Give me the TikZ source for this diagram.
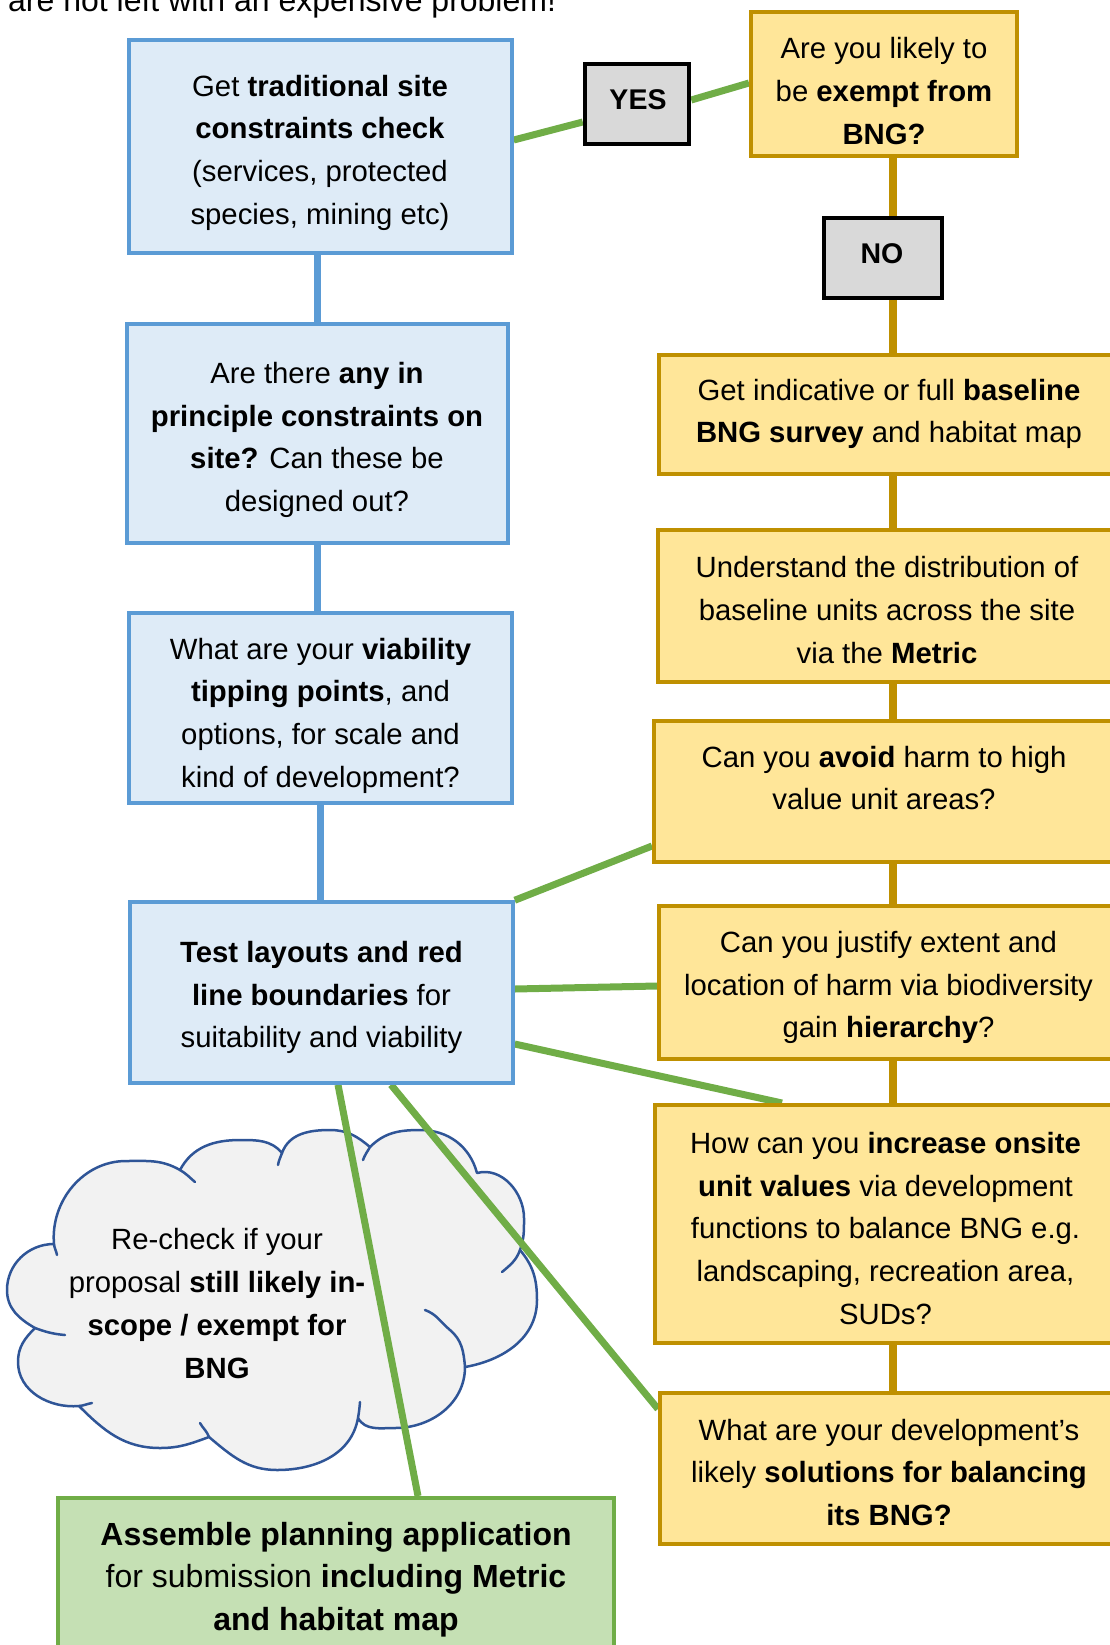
\documentclass[tikz,border=0pt]{standalone}
\usepackage{fontspec}
\setmainfont{Liberation Sans}
\usetikzlibrary{fit}
\definecolor{bBorder}{HTML}{5B9BD5}
\definecolor{bFill}{HTML}{DEEBF7}
\definecolor{yBorder}{HTML}{BF9000}
\definecolor{yFill}{HTML}{FFE699}
\definecolor{gLine}{HTML}{70AD47}
\definecolor{gFill}{HTML}{C5E0B4}
\definecolor{cFill}{HTML}{F2F2F2}
\definecolor{cLine}{HTML}{2F5597}
\definecolor{ynFill}{HTML}{D9D9D9}
\pgfdeclarelayer{back}
\pgfdeclarelayer{mid}
\pgfsetlayers{back,mid,main}
\tikzset{
  frame/.style={rectangle, inner sep=0pt},
  bluebox/.style={frame, draw=bBorder, fill=bFill, line width=3.5pt},
  yelbox/.style={frame, draw=yBorder, fill=yFill, line width=4pt},
  ynbox/.style={frame, draw=black, fill=ynFill, line width=4.5pt},
  grnbox/.style={frame, draw=gLine, fill=gFill, line width=4pt},
  txt/.style={align=center, inner sep=0pt, font=\fontsize{29.3}{42.7}\selectfont},
  bigtxt/.style={align=center, inner sep=0pt, font=\fontsize{32}{42.7}\selectfont},
  yntxt/.style={inner sep=0pt, font=\fontsize{28.5}{32}\selectfont\bfseries},
  bconn/.style={draw=bBorder, line width=7.5pt},
  yconn/.style={draw=yBorder, line width=7.5pt},
  gconn/.style={draw=gLine, line width=7pt},
  cloudline/.style={draw=cLine, line width=2.5pt, line cap=round, line join=round},
}
\begin{document}
\begin{tikzpicture}[x=1pt,y=1pt]
\useasboundingbox (0,0) rectangle (1109,-1645);

% intro text (cut off at the top, as in the source)
\node[anchor=base west, inner sep=0pt, font=\fontsize{32}{38}\selectfont] (intro) at (8,-12) {are not left with an expensive problem!};

% blue column
\node[bluebox, fit={(129,-40) (512,-253)}] (b1) {};
\node[txt] (b1t) at (320,-152.5) {Get \textbf{traditional site}\\ \textbf{constraints check}\\ (services, protected\\ species, mining etc)};
\node[bluebox, fit={(127,-324) (508,-543)}] (b2) {};
\node[txt] (b2t) at (317,-440) {Are there \textbf{any in}\\ \textbf{principle constraints on}\\ \textbf{site?} Can these be\\ designed out?};
\node[bluebox, fit={(129,-613) (512,-803)}] (b3) {};
\node[txt] (b3t) at (320.5,-715.5) {What are your \textbf{viability}\\ \textbf{tipping points}, and\\ options, for scale and\\ kind of development?};
\node[bluebox, fit={(130,-902) (513,-1083)}] (b4) {};
\node[txt] (b4t) at (321.5,-997.5) {\textbf{Test layouts and red}\\ \textbf{line boundaries} for\\ suitability and viability};

% yes / no
\node[ynbox, fit={(585,-64) (689,-144)}] (yes) {};
\node[yntxt] (yest) at (638,-100) {YES};
\node[ynbox, fit={(824,-218) (942,-298)}] (no) {};
\node[yntxt] (not) at (882,-254) {NO};

% yellow column
\node[yelbox, fit={(751,-12) (1017,-156)}] (y1) {};
\node[txt] (y1t) at (884,-91) {Are you likely to\\ be \textbf{exempt from}\\ \textbf{BNG?}};
\node[yelbox, fit={(659,-355) (1127,-474)}] (y2) {};
\node[txt] (y2t) at (889,-414) {Get indicative or full \textbf{baseline}\\ \textbf{BNG survey} and habitat map};
\node[yelbox, fit={(658,-530) (1128,-682)}] (y3) {};
\node[txt] (y3t) at (887,-610) {Understand the distribution of\\ baseline units across the site\\ via the \textbf{Metric}};
\node[yelbox, fit={(654,-721) (1132,-862)}] (y4) {};
\node[txt] (y4t) at (884,-778) {Can you \textbf{avoid} harm to high\\ value unit areas?};
\node[yelbox, fit={(659,-906) (1127,-1059)}] (y5) {};
\node[txt] (y5t) at (888.5,-987.5) {Can you justify extent and\\ location of harm via biodiversity\\ gain \textbf{hierarchy}?};
\node[yelbox, fit={(655,-1105) (1131,-1343)}] (y6) {};
\node[txt] (y6t) at (885.5,-1228.5) {How can you \textbf{increase onsite}\\ \textbf{unit values} via development\\ functions to balance BNG e.g.\\ landscaping, recreation area,\\ SUDs?};
\node[yelbox, fit={(660,-1393) (1126,-1544)}] (y7) {};
\node[txt] (y7t) at (889,-1472.5) {What are your development’s\\ likely \textbf{solutions for balancing}\\ \textbf{its BNG?}};

% green box
\node[grnbox, fit={(58,-1498) (614,-1700)}] (gb) {};
\node[bigtxt] (gbt) at (336,-1579.5) {\textbf{Assemble planning application}\\ for submission \textbf{including Metric}\\ \textbf{and habitat map}};

% cloud
\begin{pgfonlayer}{back}
\path[fill=cFill, cloudline]
  (54,-1244) to[out=95,in=180] (126,-1161) to[out=0,in=150] (180,-1170)
  to[out=62,in=180] (240,-1140) to[out=0,in=130] (282,-1153)
  to[out=70,in=180] (330,-1130) to[out=0,in=140] (370,-1147)
  to[out=45,in=180] (420,-1130) to[out=0,in=105] (477,-1173)
  to[out=15,in=90] (524,-1218) to[out=-90,in=70] (520,-1250)
  to[out=-50,in=90] (537,-1300) to[out=-90,in=10] (465,-1367)
  to[out=-90,in=0] (395,-1428) to[out=180,in=-60] (358,-1418)
  to[out=-100,in=0] (277,-1470) to[out=180,in=-40] (209,-1437)
  to[out=-160,in=0] (160,-1448) to[out=180,in=-45] (79,-1406)
  to[out=185,in=-90] (18,-1362) to[out=90,in=-135] (35,-1328)
  to[out=150,in=-90] (7,-1290) to[out=90,in=180] (54,-1244) -- cycle;
\draw[cloudline] (54,-1244) to[out=-85,in=100] (57,-1255);
\draw[cloudline] (180,-1170) to[out=-30,in=140] (195,-1182);
\draw[cloudline] (282,-1153) to[out=-110,in=80] (278,-1165);
\draw[cloudline] (370,-1147) to[out=-120,in=70] (363,-1160);
\draw[cloudline] (520,-1250) to[out=-110,in=40] (502,-1272);
\draw[cloudline] (465,-1367) to[out=95,in=-40] (450,-1330) to[out=140,in=-20] (425,-1310);
\draw[cloudline] (358,-1418) to[out=80,in=-95] (360,-1402);
\draw[cloudline] (209,-1437) to[out=110,in=-60] (200,-1423);
\draw[cloudline] (79,-1406) to[out=5,in=190] (92,-1403);
\draw[cloudline] (35,-1328) to[out=-20,in=175] (65,-1335);
\node[txt] (ct) at (217,-1303.5) {Re-check if your\\ proposal \textbf{still likely in-}\\ \textbf{scope / exempt for}\\ \textbf{BNG}};
\end{pgfonlayer}

% connectors
\begin{pgfonlayer}{mid}
\draw[bconn] (b2.north |- b1.south) -- (b2.north);
\draw[bconn] (b2.south) -- (b2.south |- b3.north);
\draw[bconn] (b3.south) -- (b3.south |- b4.north);
\draw[yconn] (y1.south -| y2.north) -- (no.north -| y2.north);
\draw[yconn] (no.south -| y2.north) -- (y2.north);
\draw[yconn] (y2.south) -- (y3.north);
\draw[yconn] (y3.south) -- (y4.north);
\draw[yconn] (y4.south) -- (y5.north);
\draw[yconn] (y5.south) -- (y6.north);
\draw[yconn] (y6.south) -- (y7.north);
\draw[gconn] ([yshift=6.5pt]b1.east) -- ([yshift=-18pt]yes.west);
\draw[gconn] ([yshift=4pt]yes.east) -- ([yshift=1pt]y1.west);
\draw[gconn] (b4.north east) -- ([yshift=-54.5pt]y4.west);
\draw[gconn] ([yshift=3.5pt]b4.east) -- ([yshift=-3.5pt]y5.west);
\draw[gconn] ([yshift=-51.5pt]b4.east) -- ([xshift=-111pt]y6.north);
\draw[gconn] ([xshift=69.5pt]b4.south) -- ([yshift=59.5pt]y7.west);
\draw[gconn] ([xshift=16.5pt]b4.south) -- ([xshift=82pt]gb.north);
\end{pgfonlayer}
\end{tikzpicture}
\end{document}
